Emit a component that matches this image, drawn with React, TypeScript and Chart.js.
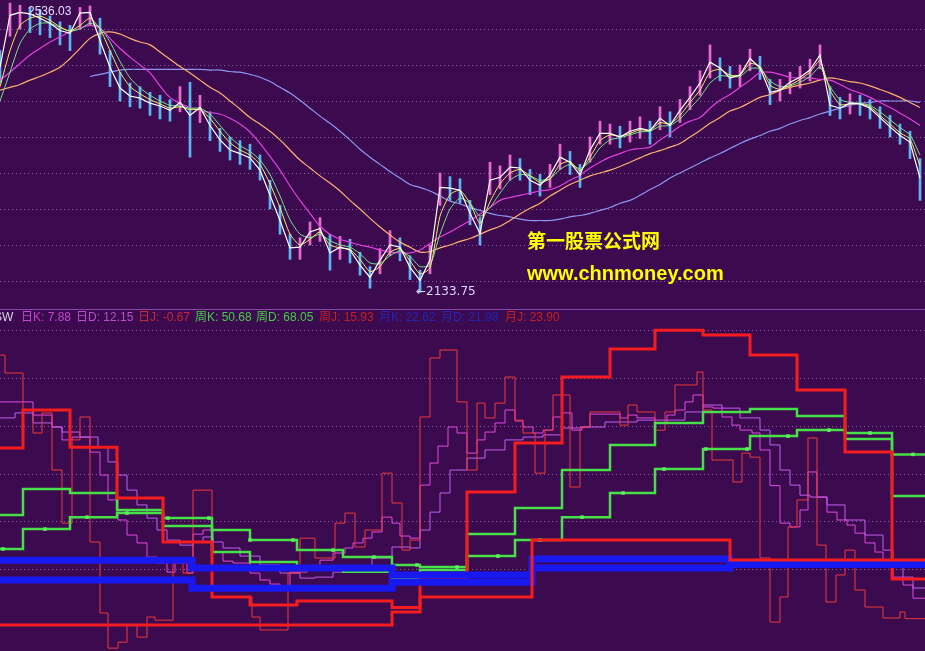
import React, { useEffect, useRef } from "react";
import { Chart, registerables } from "chart.js";

Chart.register(...registerables);

const BG = "#3c0a4e";
const X_MAX = 92.5;

// ---------- top panel: daily bars (index = trading bar) ----------
const highs = [
  2470, 2536, 2533, 2530, 2527, 2518, 2510, 2505, 2530, 2532,
  2515, 2470, 2440, 2425, 2420, 2412, 2408, 2402, 2420, 2426,
  2408, 2385, 2362, 2350, 2345, 2340, 2325, 2290, 2255, 2215,
  2210, 2232, 2238, 2215, 2212, 2208, 2190, 2170, 2195, 2220,
  2210, 2185, 2165, 2200, 2300, 2295, 2292, 2262, 2238, 2315,
  2310, 2325, 2320, 2305, 2298, 2312, 2340, 2330, 2312, 2350,
  2372, 2368, 2365, 2372, 2378, 2372, 2392, 2385, 2402, 2420,
  2442, 2478, 2460, 2448, 2450, 2472, 2462, 2430, 2430, 2440,
  2448, 2458, 2478, 2420, 2405, 2410, 2408, 2402, 2392, 2380,
  2368, 2358, 2320,
];
const lows = [
  2425, 2490, 2500, 2495, 2492, 2488, 2478, 2470, 2500, 2505,
  2465, 2420, 2400, 2392, 2390, 2380, 2375, 2372, 2385, 2322,
  2370, 2345, 2330, 2318, 2312, 2305, 2290, 2250, 2215, 2180,
  2180, 2200, 2205, 2165, 2180, 2175, 2158, 2140, 2160, 2185,
  2178, 2152, 2134, 2160, 2255, 2262, 2258, 2228, 2200, 2270,
  2278, 2290, 2290, 2270, 2268, 2280, 2305, 2298, 2280, 2315,
  2340, 2340, 2335, 2343, 2348, 2340, 2360, 2350, 2370, 2388,
  2408, 2432, 2428, 2418, 2420, 2442, 2430, 2395, 2400, 2410,
  2418, 2428, 2445, 2380, 2375, 2382, 2380, 2375, 2362, 2350,
  2340, 2320, 2262,
];
const ma5 = [
  2447, 2519, 2523, 2521, 2515, 2508, 2498, 2494, 2522, 2523,
  2484, 2447, 2418, 2407, 2404, 2397, 2393, 2387, 2398, 2380,
  2391, 2366, 2346, 2332, 2327, 2321, 2304, 2269, 2234, 2196,
  2197, 2218, 2223, 2189, 2197, 2193, 2172, 2155, 2179, 2200,
  2197, 2169, 2151, 2179, 2280, 2279, 2276, 2244, 2216, 2290,
  2294, 2308, 2307, 2290, 2283, 2297, 2322, 2315, 2297, 2332,
  2355, 2355, 2350, 2358, 2362, 2359, 2376, 2366, 2387, 2405,
  2425, 2454, 2446, 2432, 2436, 2459, 2446, 2412, 2415, 2426,
  2433, 2443, 2464, 2394, 2390, 2397, 2396, 2390, 2377, 2364,
  2352, 2343, 2293,
];
const ma10 = [
  2420, 2470, 2505, 2515, 2518, 2512, 2503, 2497, 2505, 2515,
  2500, 2470, 2440, 2420, 2410, 2402, 2396, 2390, 2392, 2388,
  2388, 2376, 2358, 2342, 2332, 2325, 2312, 2285, 2252, 2215,
  2200, 2208, 2218, 2200, 2196, 2194, 2180, 2163, 2170, 2190,
  2195, 2178, 2160, 2168, 2240, 2270, 2276, 2258, 2230, 2260,
  2285, 2300, 2305, 2296, 2287, 2292, 2312, 2316, 2303, 2322,
  2345, 2353, 2351, 2355, 2360, 2359, 2370, 2368, 2380, 2398,
  2415, 2440, 2444, 2436, 2436, 2452, 2448, 2422, 2416, 2422,
  2430, 2440, 2456, 2415, 2395, 2396, 2396, 2392, 2380, 2368,
  2356, 2347, 2310,
];
const ma20 = [
  2400, 2440, 2480, 2500, 2508, 2508, 2502, 2497, 2500, 2508,
  2502, 2482, 2455, 2432, 2418, 2408, 2400, 2394, 2393, 2390,
  2390, 2382, 2366, 2350, 2338, 2330, 2318, 2298, 2268, 2235,
  2215, 2210, 2215, 2206, 2200, 2197, 2188, 2175, 2174, 2185,
  2192, 2184, 2170, 2172, 2215, 2250, 2265, 2258, 2240, 2252,
  2272, 2290, 2298, 2296, 2290, 2292, 2305, 2312, 2306, 2316,
  2335, 2346, 2349, 2353, 2357, 2358, 2365, 2366, 2375, 2390,
  2405, 2425, 2435, 2434, 2434, 2445, 2445, 2428, 2420, 2421,
  2426, 2434, 2447, 2420, 2402, 2398, 2397, 2394, 2385, 2374,
  2363, 2353, 2325,
];
const ma60 = [
  2429, 2440, 2452, 2464, 2473, 2482, 2489, 2496, 2501, 2505,
  2501, 2487, 2473, 2461, 2450, 2439, 2421, 2405, 2397, 2391,
  2387, 2384, 2382, 2376, 2368, 2357, 2341, 2323, 2304, 2282,
  2262, 2244, 2226, 2215, 2208, 2204, 2200, 2197, 2193, 2190,
  2189, 2189, 2193, 2202, 2211, 2218, 2226, 2234, 2243, 2252,
  2262, 2266, 2269, 2272, 2275, 2277, 2282, 2290, 2297, 2307,
  2315, 2322, 2327, 2332, 2334, 2336, 2346, 2355, 2365, 2372,
  2377, 2390, 2401, 2409, 2419, 2429, 2439, 2440, 2437, 2433,
  2432, 2432, 2430, 2429, 2423, 2416, 2411, 2405, 2398, 2391,
  2383, 2375, 2366,
];
const ma120 = [
  2415, 2419, 2423, 2429, 2434, 2440, 2447, 2459, 2473, 2487,
  2494, 2496, 2493, 2487, 2482, 2478, 2468, 2458, 2448, 2439,
  2429, 2419, 2411, 2400, 2389, 2377, 2368, 2358, 2346, 2332,
  2318, 2307, 2296, 2286, 2275, 2262, 2250, 2237, 2225, 2214,
  2204, 2197, 2190, 2191, 2196, 2200, 2205, 2209, 2215, 2221,
  2226, 2234, 2243, 2251, 2258, 2268, 2276, 2284, 2290, 2296,
  2300, 2304, 2309, 2315, 2321, 2327, 2331, 2336, 2341, 2350,
  2359, 2369, 2377, 2386, 2391, 2398, 2405, 2409, 2415, 2419,
  2422, 2425, 2429, 2432, 2430, 2427, 2425, 2421, 2416, 2411,
  2405, 2398, 2391,
];
const ma250 = [
  null, null, null, null, null, null, null, null, null, 2434,
  2437, 2440, 2443, 2444, 2444, 2444, 2444, 2444, 2444, 2444,
  2444, 2443, 2443, 2441, 2440, 2437, 2433, 2427, 2419, 2411,
  2401, 2390, 2379, 2369, 2358, 2346, 2333, 2322, 2312, 2302,
  2293, 2284, 2280, 2275, 2268, 2261, 2257, 2252, 2248, 2244,
  2241, 2239, 2236, 2234, 2234, 2234, 2236, 2239, 2241, 2244,
  2248, 2252, 2258, 2262, 2269, 2277, 2284, 2293, 2300, 2307,
  2314, 2321, 2327, 2334, 2341, 2347, 2352, 2358, 2362, 2368,
  2373, 2377, 2382, 2386, 2390, 2394, 2397, 2398, 2400, 2400,
  2400, 2400, 2398,
];
const priceGrid = [2500, 2450, 2400, 2350, 2300, 2250, 2200, 2150];
const highLabel = "2536.03";
const lowLabel = "←2133.75";

// ---------- bottom panel: KDJ step series ([bar, value]) ----------
const kdjGrid = [20, 40, 60, 80, 100, 120];

const dayK: [number, number][] = [
  [0, 90], [3.3, 84.5], [5.2, 79.5], [6.2, 74.1], [7.2, 75.3], [9.0, 69], [10.0, 59.4], [10.8, 49],
  [11.8, 40.6], [12.7, 34.3], [13.7, 31], [14.7, 25.1], [15.7, 22.6], [16.7, 18.8], [17.5, 22.6],
  [18.7, 18.4], [19.3, 34.7], [20.3, 36.4], [21.3, 27.2], [22.3, 23.4], [23.3, 22.6], [25.0, 18.4],
  [26.0, 15.5], [27.0, 13.8], [28.0, 12.6], [29.0, 18.8], [30.7, 20.9], [32.0, 23.8], [33.3, 26.8],
  [34.5, 28.9], [35.3, 31], [36.3, 33], [37.2, 35.6], [38.2, 41.8], [39.2, 39.3], [40.0, 33.9],
  [41.0, 33], [42.0, 55.2], [43.0, 64.4], [43.8, 71.5], [44.8, 79.5], [45.7, 77], [46.7, 68.6],
  [47.7, 74.1], [48.5, 77.4], [49.5, 81.2], [50.5, 86.6], [51.5, 82], [52.3, 79.5], [53.3, 77],
  [54.3, 78.2], [55.3, 83.7], [56.2, 85.4], [57.2, 78.2], [58.2, 79.5], [59.0, 84.9], [62.0, 83.3],
  [62.8, 84.5], [63.7, 83.3], [65.5, 81.2], [66.7, 84.5], [67.5, 86.6], [68.5, 90], [69.3, 92.9],
  [70.3, 87.9], [71.3, 87.4], [72.2, 83.7], [73.2, 80.3], [74.0, 78.2], [75.2, 77], [76.0, 69.9],
  [77.0, 55], [78.0, 39.3], [79.0, 37.7], [80.0, 44.8], [80.8, 60.7], [81.7, 50.2], [82.7, 43.9],
  [83.7, 40.6], [84.7, 38.5], [85.5, 35.1], [86.5, 31], [87.5, 27.2], [88.3, 23.8], [89.3, 16.7],
  [90.3, 13.4], [91.3, 7.88],
];
const dayD: [number, number][] = [
  [0, 83.3], [1.5, 85.4], [3.3, 81.2], [5.2, 79.5], [6.2, 77.4], [8.0, 75.3], [9.8, 71.1], [10.8, 64.9],
  [11.8, 59.4], [12.7, 53.1], [13.7, 46.9], [14.7, 41.4], [15.7, 36.4], [16.7, 32.2], [18.0, 30.1],
  [19.3, 31.4], [20.3, 33.5], [21.3, 31.4], [22.3, 28.9], [24.0, 25.5], [26.0, 21.8], [28.0, 18.4],
  [30.0, 16.3], [31.5, 16.7], [33.3, 18.8], [35.2, 21.3], [37.2, 24.7], [39.2, 29.3], [41.0, 28.9],
  [42.0, 36.4], [43.0, 43.9], [44.0, 51.9], [45.0, 61.5], [46.7, 66.5], [48.5, 69.9], [50.5, 74.1],
  [52.3, 75.3], [54.3, 76.2], [56.2, 79.1], [58.2, 79.5], [60.5, 81.6], [63.7, 82.4], [66.7, 82.4],
  [68.5, 85.8], [70.3, 88.7], [72.2, 87.4], [74.0, 83.3], [76.0, 78.2], [77.0, 72], [78.0, 61.5],
  [79.0, 55.2], [80.0, 51], [81.0, 50.2], [82.7, 46.9], [84.5, 40.6], [86.5, 34.3], [88.3, 28],
  [89.3, 21.8], [90.3, 16.7], [91.3, 12.15],
];
const dayJ: [number, number][] = [
  [0, 109.6], [0.5, 102.1], [2.3, 86.6], [3.3, 77], [4.2, 85.4], [5.2, 61.5], [6.2, 39.3], [7.2, 74.1],
  [8.0, 83.7], [9.0, 31.4], [10.0, 1.7], [10.8, -13], [11.8, -10.5], [12.7, -3.3], [13.7, -8.4],
  [14.7, 0], [15.5, -1.3], [17.3, 22.6], [18.3, 18.4], [19.3, 53.1], [21.2, 8.4], [25.2, 0],
  [26.0, -5.4], [28.8, 18.4], [30.0, 33], [31.5, 24.7], [33.5, 39.3], [34.5, 43.5], [35.5, 29.3],
  [36.5, 36.4], [38.2, 60.2], [39.2, 47.7], [40.2, 28], [41.0, 32.2], [42.0, 83.7], [43.0, 108.4],
  [44.0, 111.7], [45.7, 90], [46.7, 61.5], [47.7, 89.5], [48.5, 83.3], [49.5, 89.5], [50.5, 100.4],
  [51.5, 82.4], [52.3, 77], [53.5, 60.2], [54.5, 78.2], [55.3, 92.9], [57.0, 54.4], [58.0, 79.5],
  [59.0, 85.8], [62.0, 80.3], [62.8, 88.7], [63.7, 85.8], [65.5, 78.2], [66.5, 85.8], [67.5, 97.1],
  [69.7, 102.5], [70.3, 86.6], [71.2, 65.7], [73.3, 56.5], [74.2, 68.6], [75.0, 66.9], [76.0, 24.7],
  [77.0, -2.1], [78.0, 8.4], [78.8, 37.7], [79.7, 49], [80.8, 74.9], [81.7, 30.1], [82.6, 6.3],
  [83.6, 17.6], [84.5, 28], [85.5, 11.3], [86.5, 4.2], [88.3, -0.4], [90.0, 2.1], [90.5, -0.67],
];

const weekBreaks = [0, 2.3, 7.0, 11.7, 16.3, 21.2, 25.0, 29.7, 34.3, 39.2, 42.0, 46.7, 51.5, 56.2, 61.0, 65.5, 70.3, 75.0, 79.7, 84.5, 89.2];
const weekK = [42.7, 53.6, 51.9, 44.8, 38.1, 27.2, 23.0, 20.9, 19.0, 16.3, 19.7, 34.7, 45.6, 61.5, 72.0, 81.2, 85.8, 87.0, 84.1, 74.5, 50.68];
const weekD = [28.5, 36.8, 41.8, 43.5, 41.4, 36.4, 32.2, 28.0, 25.1, 21.8, 20.9, 25.5, 32.2, 41.8, 51.9, 61.9, 70.3, 75.7, 78.2, 77.0, 68.05];
const weekJ = [70.7, 86.6, 71.0, 49.8, 31.4, 8.4, 5.0, 6.7, 6.7, 4.0, 16.7, 52.3, 72.8, 100.4, 112.1, 120.0, 118.0, 109.6, 95.0, 69.0, 15.93];
// bars where the weekly D line carries a small square marker
const weekDMarkBars = [0.3, 4.5, 8.7, 12.7, 16.8, 20.9, 25.0, 29.3, 33.3, 37.4, 41.7, 45.7, 49.8, 54.0, 58.2, 62.3, 66.4, 70.6, 74.7, 78.8, 82.9, 87.0, 91.3];

const monthBreaks = [0, 19.2, 39.2, 42.0, 53.2, 73.0];
const monthK = [15.5, 12.1, 14.6, 14.6, 24.3, 22.62];
const monthD = [23.8, 20.5, 17.6, 17.6, 20.5, 21.98];
const monthJ = [-3.3, -3.3, 2.1, 8.4, 32.2, 23.9];

const legendNames = ["SW", "日K:", "日D:", "日J:", "周K:", "周D:", "周J:", "月K:", "月D:", "月J:"];
const legendValues = ["", "7.88", "12.15", "-0.67", "50.68", "68.05", "15.93", "22.62", "21.98", "23.90"];
const legendColors = ["#d8d0e8", "#c444cc", "#b650c8", "#c22a36", "#44cc44", "#44cc44", "#c42020", "#2424b8", "#2424b8", "#c42020"];
const legendLeft = [-6, 21, 76, 138, 195, 256, 319, 379, 441, 505];

const dotGrid = (values: number[]) => ({
  id: "dotGrid",
  beforeDatasetsDraw(chart: any) {
    const { ctx, chartArea, scales } = chart;
    ctx.save();
    ctx.strokeStyle = "#8c5aa2";
    ctx.lineWidth = 1;
    ctx.setLineDash([1, 3]);
    values.forEach((v) => {
      const y = Math.round(scales.y.getPixelForValue(v)) + 0.5;
      ctx.beginPath();
      ctx.moveTo(chartArea.left, y);
      ctx.lineTo(chartArea.right, y);
      ctx.stroke();
    });
    ctx.restore();
  },
});

const series = (arr: (number | null)[]) => arr.map((y, i) => ({ x: i, y }));
const stepPts = (pairs: [number, number][]) => [
  ...pairs.map(([x, y]) => ({ x, y })),
  { x: X_MAX, y: pairs[pairs.length - 1][1] },
];
const stepFrom = (breaks: number[], vals: number[]) =>
  stepPts(breaks.map((b, i) => [b, vals[i]] as [number, number]));
const valueAt = (breaks: number[], vals: number[], x: number) => {
  let v = vals[0];
  breaks.forEach((b, i) => {
    if (x >= b) v = vals[i];
  });
  return v;
};

export default function App() {
  const topRef = useRef<HTMLCanvasElement>(null);
  const botRef = useRef<HTMLCanvasElement>(null);

  useEffect(() => {
    document.body.style.margin = "0";
    document.body.style.background = BG;

    const line = (data: any[], color: string, width: number, order: number, tension = 0) => ({
      type: "line" as const,
      data,
      borderColor: color,
      borderWidth: width,
      pointRadius: 0,
      tension,
      order,
      spanGaps: false,
    });

    const top = new Chart(topRef.current!, {
      type: "line",
      data: {
        datasets: [
          {
            type: "bar",
            data: highs.map((h, i) => ({ x: i, y: [lows[i], h] })),
            backgroundColor: ma5.map((c, i) => (i > 0 && c >= ma5[i - 1] ? "#e86ad0" : "#5cb6f4")),
            barThickness: 2,
            order: 10,
          } as any,
          line(series(ma250), "#8c98f0", 1.2, 6, 0.4),
          line(series(ma120), "#ffb070", 1.2, 5, 0.4),
          line(series(ma60), "#e040e0", 1.2, 4, 0.4),
          line(series(ma20), "#70e890", 1, 3, 0.2),
          line(series(ma10), "#f0f060", 1, 2, 0.2),
          line(series(ma5), "#ffffff", 1.2, 1, 0),
        ],
      },
      options: {
        animation: false,
        responsive: false,
        events: [],
        layout: { padding: 0, autoPadding: false },
        plugins: { legend: { display: false }, tooltip: { enabled: false } },
        scales: {
          x: { type: "linear", min: 0, max: X_MAX, display: false, offset: false, grid: { offset: false } },
          y: { type: "linear", min: 2123.6, max: 2540.3, display: false },
        },
      },
      plugins: [dotGrid(priceGrid)],
    });

    const stepLine = (data: any[], color: string, width: number, order: number) => ({
      ...line(data, color, width, order),
      stepped: "before" as const,
    });

    const bot = new Chart(botRef.current!, {
      type: "line",
      data: {
        datasets: [
          stepLine(stepPts(dayK), "#e04ae0", 1, 9),
          stepLine(stepPts(dayD), "#c060ee", 1, 8),
          stepLine(stepPts(dayJ), "#ea3a3a", 1, 7),
          stepLine(stepFrom(weekBreaks, weekK), "#48e048", 2.5, 6),
          stepLine(stepFrom(weekBreaks, weekD), "#48e048", 2.5, 5),
          {
            type: "scatter",
            data: weekDMarkBars.map((x) => ({ x, y: valueAt(weekBreaks, weekD, x) })),
            pointStyle: "rect",
            pointRadius: 2.5,
            backgroundColor: "#5cf05c",
            borderWidth: 0,
            order: 4,
          },
          stepLine(stepFrom(weekBreaks, weekJ), "#f41c1c", 3, 3),
          stepLine(stepFrom(monthBreaks, monthK), "#1818f0", 7, 2),
          stepLine(stepFrom(monthBreaks, monthD), "#1818f0", 7, 1),
          stepLine(stepFrom(monthBreaks, monthJ), "#f41c1c", 3, 0),
        ] as any,
      },
      options: {
        animation: false,
        responsive: false,
        events: [],
        layout: { padding: 0, autoPadding: false },
        plugins: { legend: { display: false }, tooltip: { enabled: false } },
        scales: {
          x: { type: "linear", min: 0, max: X_MAX, display: false, offset: false },
          y: { type: "linear", min: -14.2, max: 128.45, display: false },
        },
      },
      plugins: [dotGrid(kdjGrid)],
    });

    return () => {
      top.destroy();
      bot.destroy();
    };
  }, []);

  const font = '"Liberation Sans", "Noto Sans CJK SC", sans-serif';
  return (
    <div
      style={{
        position: "relative",
        width: 925,
        height: 651,
        background: BG,
        overflow: "hidden",
        fontFamily: font,
      }}
    >
      <canvas ref={topRef} width={925} height={300} style={{ position: "absolute", left: 0, top: 0 }} />
      <canvas ref={botRef} width={925} height={341} style={{ position: "absolute", left: 0, top: 310 }} />
      <div style={{ position: "absolute", left: 0, top: 309, width: 925, height: 1, background: "#8448a4" }} />
      <div style={{ position: "absolute", left: 28, top: 5, fontSize: 12, lineHeight: "12px", color: "#e4dcff", whiteSpace: "nowrap" }}>
        {highLabel}
      </div>
      <div style={{ position: "absolute", left: 416, top: 285, fontSize: 12, lineHeight: "12px", color: "#ddd4ff", whiteSpace: "nowrap", fontFamily: '"DejaVu Sans", sans-serif' }}>
        {lowLabel}
      </div>
      <div
        style={{
          position: "absolute",
          left: 527,
          top: 230,
          fontSize: 19,
          lineHeight: "19px",
          fontWeight: 700,
          color: "#ffff00",
          fontFamily: '"Noto Sans CJK SC", sans-serif',
          whiteSpace: "nowrap",
        }}
      >
        第一股票公式网
      </div>
      <div
        style={{
          position: "absolute",
          left: 527,
          top: 263,
          fontSize: 20,
          lineHeight: "20px",
          fontWeight: 700,
          color: "#ffff00",
          fontFamily: '"Liberation Sans", Arial, sans-serif',
          whiteSpace: "nowrap",
        }}
      >
        www.chnmoney.com
      </div>
      {legendNames.map((n, i) => (
        <div
          key={n}
          style={{
            position: "absolute",
            left: legendLeft[i],
            top: 311,
            fontSize: 12,
            lineHeight: "12px",
            color: legendColors[i],
            whiteSpace: "nowrap",
          }}
        >
          {n}
          {legendValues[i] ? " " + legendValues[i] : ""}
        </div>
      ))}
    </div>
  );
}
